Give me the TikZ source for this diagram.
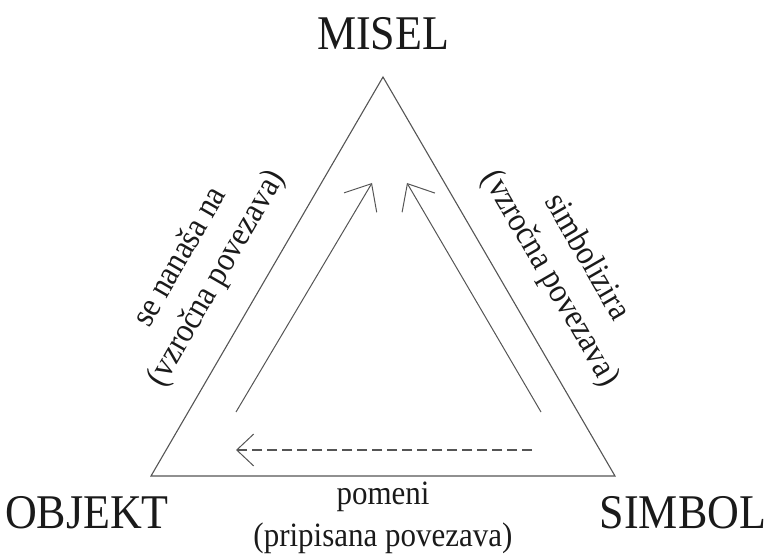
\documentclass[tikz,border=0pt]{standalone}
\usepackage{fontspec}
\setmainfont{Liberation Serif}
\usetikzlibrary{arrows.meta}
\definecolor{linegray}{HTML}{555555}
\definecolor{textdark}{HTML}{1A1A1A}
\tikzset{
  side/.style={draw=linegray, line width=1.1pt},
  relarrow/.style={draw=linegray, line width=1pt, -{Straight Barb[length=22pt,width=38pt,line width=1pt]}},
  dasharrow/.style={draw=linegray, line width=1.1pt, dash pattern=on 10pt off 5pt, -{Straight Barb[length=17pt,width=32pt,line width=1pt]}},
  bigword/.style={text=textdark, font=\fontsize{44}{48}\selectfont, inner sep=0pt, yscale=1.1, transform shape},
  smallword/.style={text=textdark, font=\fontsize{31}{38}\selectfont, inner sep=0pt, align=center, yscale=1.1, transform shape},
}
\begin{document}
\begin{tikzpicture}[x=1pt, y=-1pt]
\useasboundingbox (0,0) rectangle (769,556);
% corners
\coordinate (cL) at (151,476);
\coordinate (cT) at (383,77);
\coordinate (cR) at (615,476);
\draw[side] (cL) -- (cT) -- (cR) -- cycle;
% inner arrows
\coordinate (a1s) at (236,412);
\coordinate (a1e) at (372,183);
\coordinate (a2s) at (541,412);
\coordinate (a2e) at (407,183);
\coordinate (a3s) at (532,450);
\coordinate (a3e) at (236,450);
\draw[relarrow] (a1s) -- (a1e);
\draw[relarrow] (a2s) -- (a2e);
\draw[dasharrow] (a3s) -- (a3e);
% labels
\node[bigword] (misel) at (383,34) {MISEL};
\node[bigword] (objekt) at (87,513) {OBJEKT};
\node[bigword] (simbol) at (683,513) {SIMBOL};
\node[smallword] (pomeni) at (383,518) {pomeni\\(pripisana povezava)};
\node[rotate=60, smallword] (leftlab) at (199,268) {se nanaša na\\(vzročna povezava)};
\node[rotate=-60, smallword] (rightlab) at (568,268) {simbolizira\\(vzročna povezava)};
\end{tikzpicture}
\end{document}
